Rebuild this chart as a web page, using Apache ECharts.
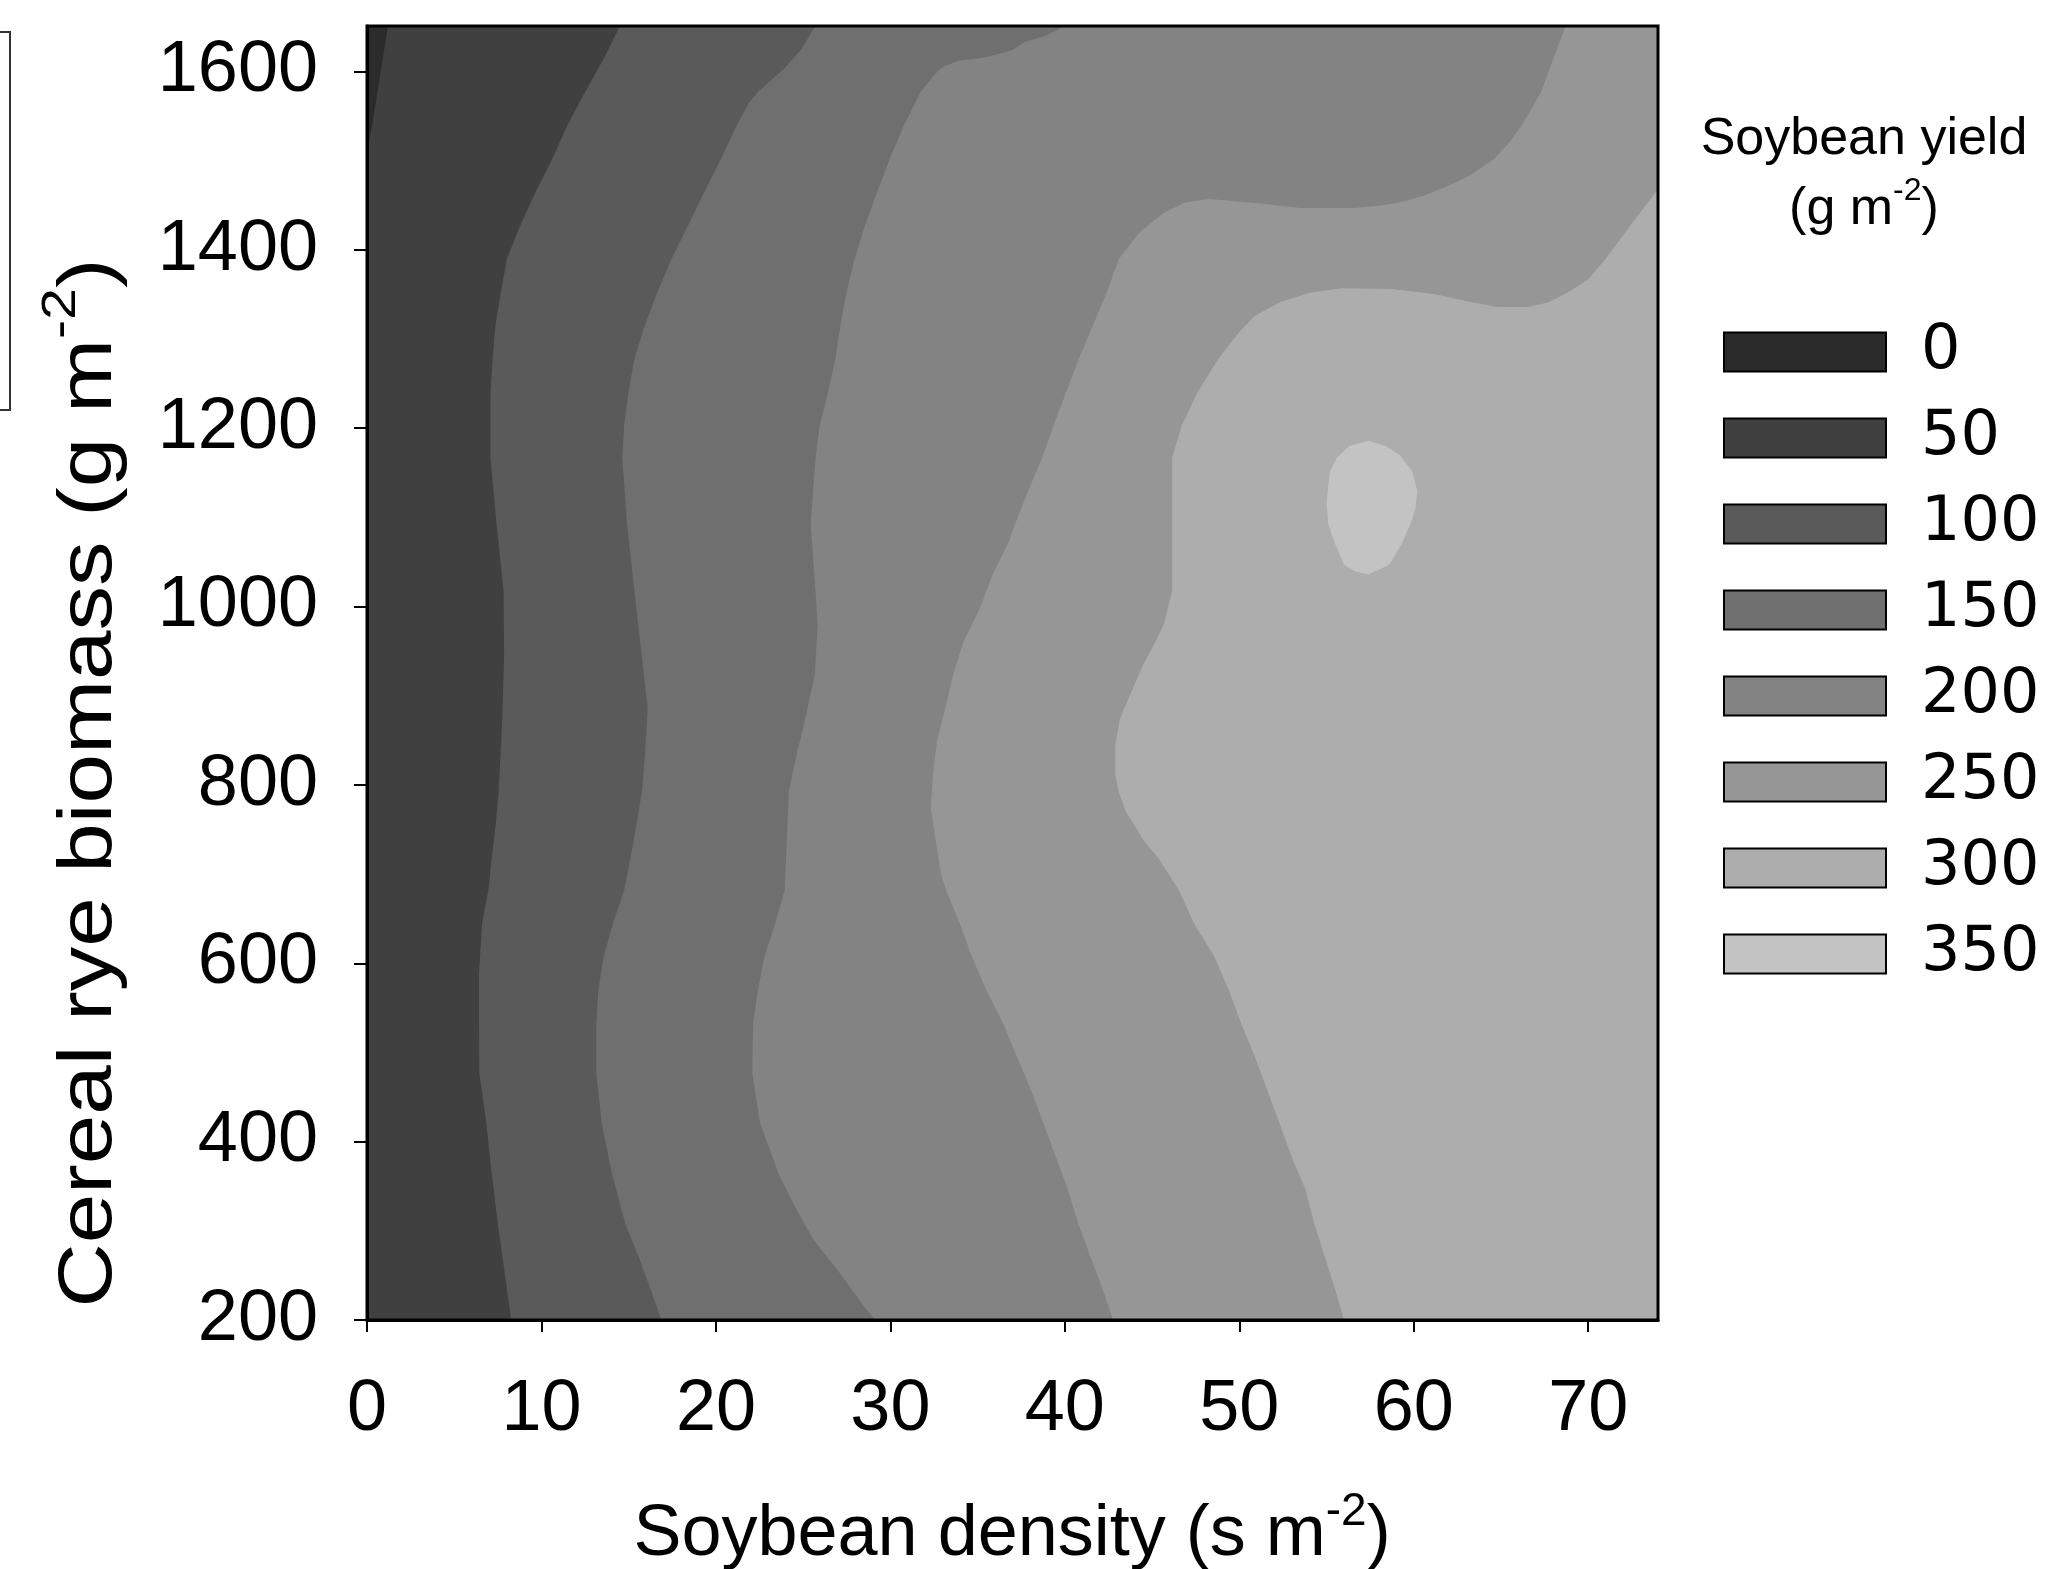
<!DOCTYPE html>
<html>
<head>
<meta charset="utf-8">
<script src="https://cdn.jsdelivr.net/npm/echarts@6/dist/echarts.min.js"></script>
<style>
html,body{margin:0;padding:0;background:#ffffff;}
#chart{width:2049px;height:1569px;}
</style>
</head>
<body>
<div id="chart"></div>
<script>
// ---------------- data ----------------
const xTicks = [0, 10, 20, 30, 40, 50, 60, 70];
const yTicks = [200, 400, 600, 800, 1000, 1200, 1400, 1600];
const xRange = [0, 74];
const yRange = [200, 1651];
const levelNames = ['0', '50', '100', '150', '200', '250', '300', '350'];

// contour boundaries [soybean density, rye biomass], listed top to bottom
const contour50 = [[1.2,1651],[0.9,1614],[0.6,1577],[0.3,1540],[0.07,1517],[0,1505]];
const contour100 = [[14.5,1651],[13.56,1614],[12.5,1577],[11.49,1540],[10.62,1502],[9.67,1465],[8.78,1427],[8.02,1390],[7.67,1352],[7.36,1315],[7.2,1278],[7.08,1240],[7.08,1167],[7.43,1092],[7.83,1017],[7.86,943],[7.74,868],[7.55,793],[7.38,756],[7.15,718],[6.96,682],[6.6,645],[6.42,589],[6.42,533],[6.44,477],[6.84,421],[7.15,364],[7.5,308],[7.9,252],[8.26,200]];
const contour150 = [[25.7,1651],[24.9,1625],[23.9,1603],[22.4,1577],[21.9,1565],[21.2,1540],[20.29,1502],[19.34,1465],[18.4,1427],[17.46,1390],[16.63,1352],[15.92,1315],[15.33,1278],[14.98,1240],[14.74,1203],[14.63,1167],[14.91,1092],[15.33,1017],[15.76,943],[16.09,886],[15.92,830],[15.76,793],[15.45,756],[15.1,718],[14.74,682],[14.1,645],[13.56,607],[13.26,570],[13.14,533],[13.14,477],[13.45,421],[14.04,364],[14.81,308],[15.57,271],[16.28,233],[16.87,200]];
const contour200 = [[39.9,1651],[39.7,1648],[38.9,1640],[37.7,1633],[37.0,1624],[35.5,1616],[33.9,1612],[33.0,1605],[32.7,1600],[31.73,1577],[30.79,1540],[29.96,1502],[29.25,1465],[28.54,1427],[27.95,1390],[27.48,1352],[27.13,1315],[26.85,1278],[26.42,1240],[25.95,1203],[25.71,1167],[25.43,1092],[25.71,1017],[25.83,980],[25.67,924],[25.05,868],[24.58,830],[24.18,793],[24.06,737],[23.94,682],[23.4,645],[22.77,607],[22.41,570],[22.13,533],[22.08,477],[22.53,421],[23.59,364],[24.53,327],[25.6,290],[27.13,252],[28.54,214],[29.13,200]];
const contour250 = [[68.7,1651],[68.0,1614],[67.3,1577],[66.2,1540],[65.5,1521],[64.6,1502],[63.2,1483],[62.0,1472],[60.6,1461],[59.2,1453],[58.2,1450],[56.6,1447],[53.5,1447],[51.2,1452],[48.3,1457],[46.9,1453],[45.7,1442],[44.3,1420],[43.1,1390],[42.4,1352],[41.6,1315],[40.8,1278],[40.07,1240],[39.35,1203],[38.7,1167],[37.9,1130],[37.0,1085],[36.8,1073],[35.86,1036],[35.15,999],[34.2,961],[33.6,924],[33.15,886],[32.67,849],[32.44,812],[32.32,774],[32.6,737],[32.9,700],[33.2,682],[33.97,645],[34.68,607],[35.5,570],[36.45,533],[37.0,507],[38.06,458],[38.77,421],[39.48,383],[40.18,346],[40.77,308],[41.47,271],[42.18,234],[42.77,200]];
const contour300 = [[74,1468],[72.4,1427],[71.0,1390],[70.0,1367],[68.8,1352],[67.7,1341],[66.5,1336],[64.8,1336],[63.4,1341],[61.5,1349],[60.6,1352],[58.7,1356],[55.9,1357],[54.0,1352],[52.3,1341],[50.9,1326],[50.0,1308],[48.8,1278],[47.6,1240],[46.7,1203],[46.15,1167],[46.15,1092],[46.15,1017],[45.95,1002],[45.67,980],[45.13,958],[44.49,935],[43.83,905],[43.17,875],[42.89,845],[42.89,812],[43.08,793],[43.48,771],[43.95,756],[44.54,737],[45.36,718],[45.95,700],[46.54,682],[47.4,645],[48.56,608],[49.4,570],[50.1,533],[50.9,495],[51.6,458],[52.3,421],[53.0,383],[53.8,346],[54.3,308],[54.9,271],[55.5,234],[56.0,200]];
const contour350 = [[57.4,1186],[58.4,1180],[59.2,1170],[59.9,1152],[60.2,1130],[60.1,1110],[59.8,1092],[59.3,1070],[58.6,1047],[57.4,1036],[56.6,1040],[56.0,1047],[55.5,1070],[55.1,1092],[55.0,1118],[55.2,1152],[55.6,1167],[56.3,1180]];

// ---------------- styles ----------------
const palette = ['#2b2b2b','#404040','#5a5a5a','#6f6f6f','#838383','#969696','#adadad','#c3c3c3'];
const FONT = 'Liberation Sans, Arial, sans-serif';

// regions (value >= level), painted in increasing order
const TL = [xRange[0], yRange[1]], TR = [xRange[1], yRange[1]];
const BL = [xRange[0], yRange[0]], BR = [xRange[1], yRange[0]];
const regions = [
  {name: '50',  color: palette[1], pts: [TL, TR, BR, BL]},
  {name: '0',   color: palette[0], pts: [TL].concat(contour50)},
  {name: '100', color: palette[2], pts: contour100.concat([BR, TR])},
  {name: '150', color: palette[3], pts: contour150.concat([BR, TR])},
  {name: '200', color: palette[4], pts: contour200.concat([BR, TR])},
  {name: '250', color: palette[5], pts: contour250.concat([BR, TR])},
  {name: '300', color: palette[6], pts: contour300.concat([BR])},
  {name: '350', color: palette[7], pts: contour350}
];

function regionSeries(r) {
  return {
    name: r.name,
    type: 'custom',
    coordinateSystem: 'cartesian2d',
    clip: true,
    silent: true,
    z: 1,
    itemStyle: {color: r.color},
    encode: {x: 0, y: 1},
    data: r.pts,
    renderItem: function (params, api) {
      if (params.dataIndex !== 0) return null;
      return {
        type: 'polygon',
        shape: {points: r.pts.map(function (p) { return api.coord(p); })},
        style: {fill: r.color, stroke: null}
      };
    }
  };
}

const chart = echarts.init(document.getElementById('chart'), null, {renderer: 'canvas'});
chart.setOption({
  animation: false,
  backgroundColor: '#ffffff',
  grid: {
    left: 367, top: 26, width: 1291, height: 1294,
    show: true, borderColor: '#000', borderWidth: 3, backgroundColor: 'transparent', z: 4
  },
  xAxis: {
    type: 'value', min: xRange[0], max: xRange[1], z: 5,
    axisLine: {show: true, lineStyle: {color: '#000', width: 3}},
    axisTick: {show: true, length: 12, inside: false, lineStyle: {color: '#000', width: 2}, customValues: xTicks},
    axisLabel: {customValues: xTicks, fontSize: 72, fontFamily: FONT, color: '#000', margin: 54,
      formatter: function (v) { return String(v); }},
    splitLine: {show: false}
  },
  yAxis: {
    type: 'value', min: yRange[0], max: yRange[1], z: 5,
    axisLine: {show: true, lineStyle: {color: '#000', width: 3}},
    axisTick: {show: true, length: 13, inside: false, lineStyle: {color: '#000', width: 2}, customValues: yTicks},
    axisLabel: {customValues: yTicks, fontSize: 72, fontFamily: FONT, color: '#000', margin: 49,
      formatter: function (v) { return String(v); }},
    splitLine: {show: false}
  },
  legend: {
    orient: 'vertical', left: 1723, top: 321, padding: 0,
    itemWidth: 162, itemHeight: 39, itemGap: 24, icon: 'rect',
    selectedMode: false,
    itemStyle: {borderColor: '#000', borderWidth: 2},
    textStyle: {fontFamily: 'DejaVu Sans, sans-serif', fontSize: 62, color: '#000', padding: [0, 0, 0, 30]},
    data: levelNames
  },
  graphic: [
    {
      type: 'text', x: 1864, y: 175, z: 10,
      style: {
        text: '{t|Soybean yield}\n{t|(g m}{s|-2}{t|)}',
        textAlign: 'center', textVerticalAlign: 'middle', fill: '#000',
        rich: {
          t: {fontSize: 52, fontFamily: FONT, lineHeight: 70, fill: '#000'},
          s: {fontSize: 32, fontFamily: FONT, lineHeight: 44, verticalAlign: 'top', fill: '#000'}
        }
      }
    },
    {
      type: 'text', x: 1012, y: 1535, z: 10,
      style: {
        text: '{m|Soybean density (s m}{s|-2}{m|)}',
        textAlign: 'center', textVerticalAlign: 'middle', fill: '#000',
        rich: {
          m: {fontSize: 72, fontFamily: FONT, lineHeight: 91, fill: '#000'},
          s: {fontSize: 46, fontFamily: FONT, lineHeight: 46, verticalAlign: 'top', fill: '#000'}
        }
      }
    },
    {
      type: 'text', x: 90, y: 783, rotation: Math.PI / 2, scaleX: 1.17, z: 10,
      style: {
        text: '{m|Cereal rye biomass (g m}{s|-2}{m|)}',
        textAlign: 'center', textVerticalAlign: 'middle', fill: '#000',
        rich: {
          m: {fontSize: 76, fontFamily: FONT, lineHeight: 107, fill: '#000'},
          s: {fontSize: 49, fontFamily: FONT, lineHeight: 49, verticalAlign: 'top', fill: '#000'}
        }
      }
    },
    {
      type: 'rect', z: 10,
      shape: {x: -20, y: 32, width: 30, height: 378},
      style: {fill: 'none', stroke: '#333', lineWidth: 2}
    }
  ],
  series: regions.map(regionSeries)
});
</script>
</body>
</html>
